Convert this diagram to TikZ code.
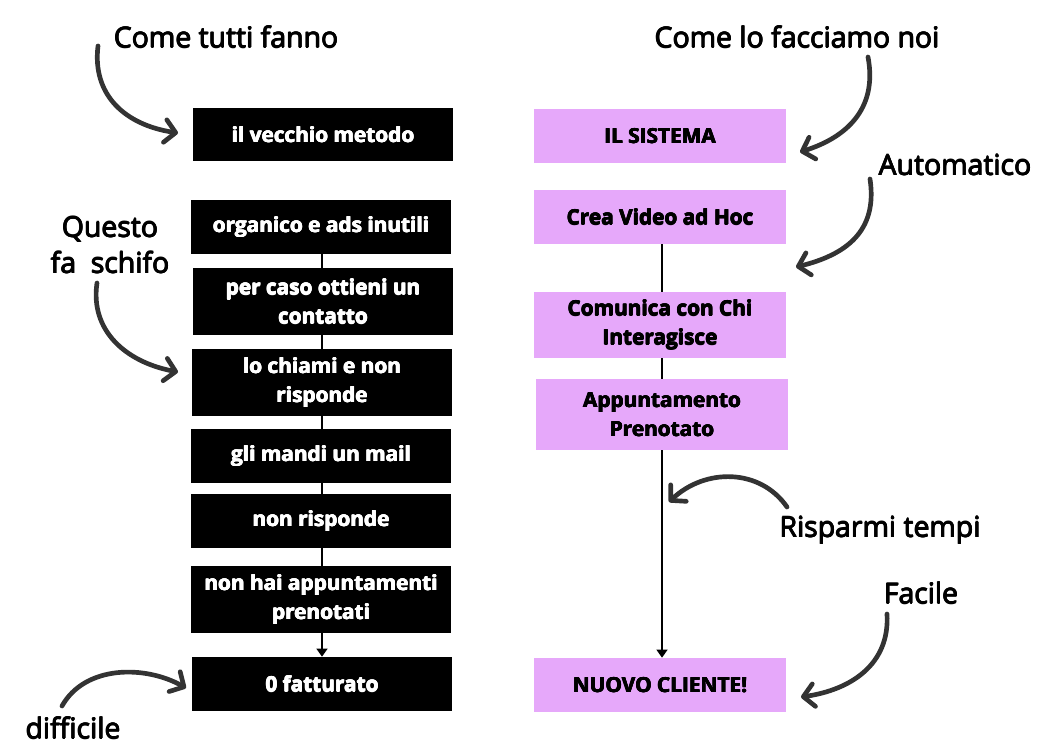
\documentclass[tikz,border=0pt]{standalone}
\usepackage{fontspec}
\setmainfont{Open Sans}
\IfFontExistsTF{Open Sans SemiBold}{\newfontfamily\labfont{Open Sans SemiBold}}{\newfontfamily\labfont{Open Sans}}
\IfFontExistsTF{Open Sans ExtraBold}{\newfontfamily\boxfont{Open Sans ExtraBold}}{\newfontfamily\boxfont{Open Sans Bold}}
\newcommand\fatt[2]{\makebox[0pt][l]{#2}\makebox[0pt][l]{\kern#1 #2}\makebox[0pt][l]{\kern0.5\dimexpr#1\relax\raisebox{0.4\dimexpr#1\relax}{#2}}\makebox[0pt][l]{\kern0.5\dimexpr#1\relax\raisebox{-0.4\dimexpr#1\relax}{#2}}\kern#1 #2}
\newcommand\labfb[1]{\fatt{0.7pt}{#1}}
\newcommand\boxfb[1]{\fatt{0.55pt}{#1}}
\usetikzlibrary{arrows.meta}
\definecolor{pinkbox}{RGB}{230,168,250}
\definecolor{curvecol}{RGB}{51,51,51}
\tikzset{
  blackbox/.style={rectangle, fill=black, text=white, inner sep=0pt, align=center,
    minimum width=195pt, font=\boxfont\fontsize{15.6pt}{21.75pt}\selectfont},
  pinkbox/.style={rectangle, fill=pinkbox, text=black, inner sep=0pt, align=center,
    minimum width=189pt, font=\boxfont\fontsize{15.6pt}{21.75pt}\selectfont},
  lab/.style={inner sep=0pt, align=center, text=black, font=\labfont\fontsize{21.3pt}{27pt}\selectfont},
  link/.style={draw=black, line width=1.5pt},
  linkarrow/.style={link, -{Triangle[length=6pt,width=8pt]}},
  curvy/.style={draw=curvecol, line width=3.5pt, line cap=round,
    -{Straight Barb[length=8pt,width=17pt,round]}}
}
\begin{document}
\begin{tikzpicture}[x=0.75pt,y=-0.75pt]
\useasboundingbox (0,0) rectangle (1063,755);
% left column
\node[blackbox, minimum height=39.75pt] (old) at (323,134.5) {\boxfb{il vecchio metodo}};
\node[blackbox, minimum height=40.5pt] (l1) at (321,227) {\boxfb{organico e ads inutili}};
\node[blackbox, minimum height=50.25pt] (l2) at (323,301.5) {\boxfb{per caso ottieni un}\\\boxfb{contatto}};
\node[blackbox, minimum height=50.25pt] (l3) at (322,382.5) {\boxfb{lo chiami e non}\\\boxfb{risponde}};
\node[blackbox, minimum height=40.5pt] (l4) at (321,456) {\boxfb{gli mandi un mail}};
\node[blackbox, minimum height=40.5pt] (l5) at (321,521) {\boxfb{non risponde}};
\node[blackbox, minimum height=50.25pt] (l6) at (321,599.5) {\boxfb{non hai appuntamenti}\\\boxfb{prenotati}};
\node[blackbox, minimum height=40.5pt] (l7) at (322,684) {\boxfb{0 fatturato}};
% right column
\node[pinkbox, minimum height=40.5pt] (sys) at (660,136) {\boxfb{IL SISTEMA}};
\node[pinkbox, minimum height=40.5pt] (r1) at (660,217) {\boxfb{Crea Video ad Hoc}};
\node[pinkbox, minimum height=49.5pt] (r2) at (660,325) {\boxfb{Comunica con Chi}\\\boxfb{Interagisce}};
\node[pinkbox, minimum height=53.25pt] (r3) at (662,414.5) {\boxfb{Appuntamento}\\\boxfb{Prenotato}};
\node[pinkbox, minimum height=40.5pt] (r4) at (660,685) {\boxfb{NUOVO CLIENTE!}};
% connectors left
\draw[link] (l1.south -| 322,0) -- (l2.north -| 322,0);
\draw[link] (l2.south -| 322,0) -- (l3.north -| 322,0);
\draw[link] (l3.south -| 322,0) -- (l4.north -| 322,0);
\draw[link] (l4.south -| 322,0) -- (l5.north -| 322,0);
\draw[link] (l5.south -| 322,0) -- (l6.north -| 322,0);
\draw[linkarrow] (l6.south -| 322,0) -- (l7.north -| 322,0);
% connectors right
\draw[link] (r1.south -| 662,0) -- (r2.north -| 662,0);
\draw[link] (r2.south -| 662,0) -- (r3.north -| 662,0);
\draw[linkarrow] (r3.south -| 662,0) -- (r4.north -| 662,0);
% labels
\node[lab] (t1) at (226,37) {\labfb{Come tutti fanno}};
\node[lab] (t2) at (797,37) {\labfb{Come lo facciamo noi}};
\node[lab] (t3) at (955,165) {\labfb{Automatico}};
\node[lab] (t4) at (110,245) {\labfb{Questo}\\\labfb{fa\ \ schifo}};
\node[lab] (t5) at (880,530) {\labfb{Risparmi tempi}};
\node[lab] (t6) at (921,593) {\labfb{Facile}};
\node[lab] (t7) at (73,728) {\labfb{difficile}};
% curved arrows
\coordinate (a1s) at (98,46); \coordinate (a1e) at (178,133);
\coordinate (a2s) at (868,57); \coordinate (a2e) at (800,152);
\coordinate (a3s) at (870,179); \coordinate (a3e) at (796,267);
\coordinate (a4s) at (97,283); \coordinate (a4e) at (178,372);
\coordinate (a5s) at (787,507); \coordinate (a5e) at (669,502);
\coordinate (a6s) at (887,614); \coordinate (a6e) at (801,697);
\coordinate (a7s) at (62,706); \coordinate (a7e) at (186,688);
\draw[curvy] (a1s) .. controls (92,95) and (125,125) .. (a1e);
\draw[curvy] (a2s) .. controls (878,110) and (845,138) .. (a2e);
\draw[curvy] (a3s) .. controls (878,232) and (845,255) .. (a3e);
\draw[curvy] (a4s) .. controls (90,330) and (125,362) .. (a4e);
\draw[curvy] (a5s) .. controls (760,468) and (705,468) .. (a5e);
\draw[curvy] (a6s) .. controls (890,665) and (850,690) .. (a6e);
\draw[curvy] (a7s) .. controls (85,665) and (145,665) .. (a7e);
\end{tikzpicture}
\end{document}
